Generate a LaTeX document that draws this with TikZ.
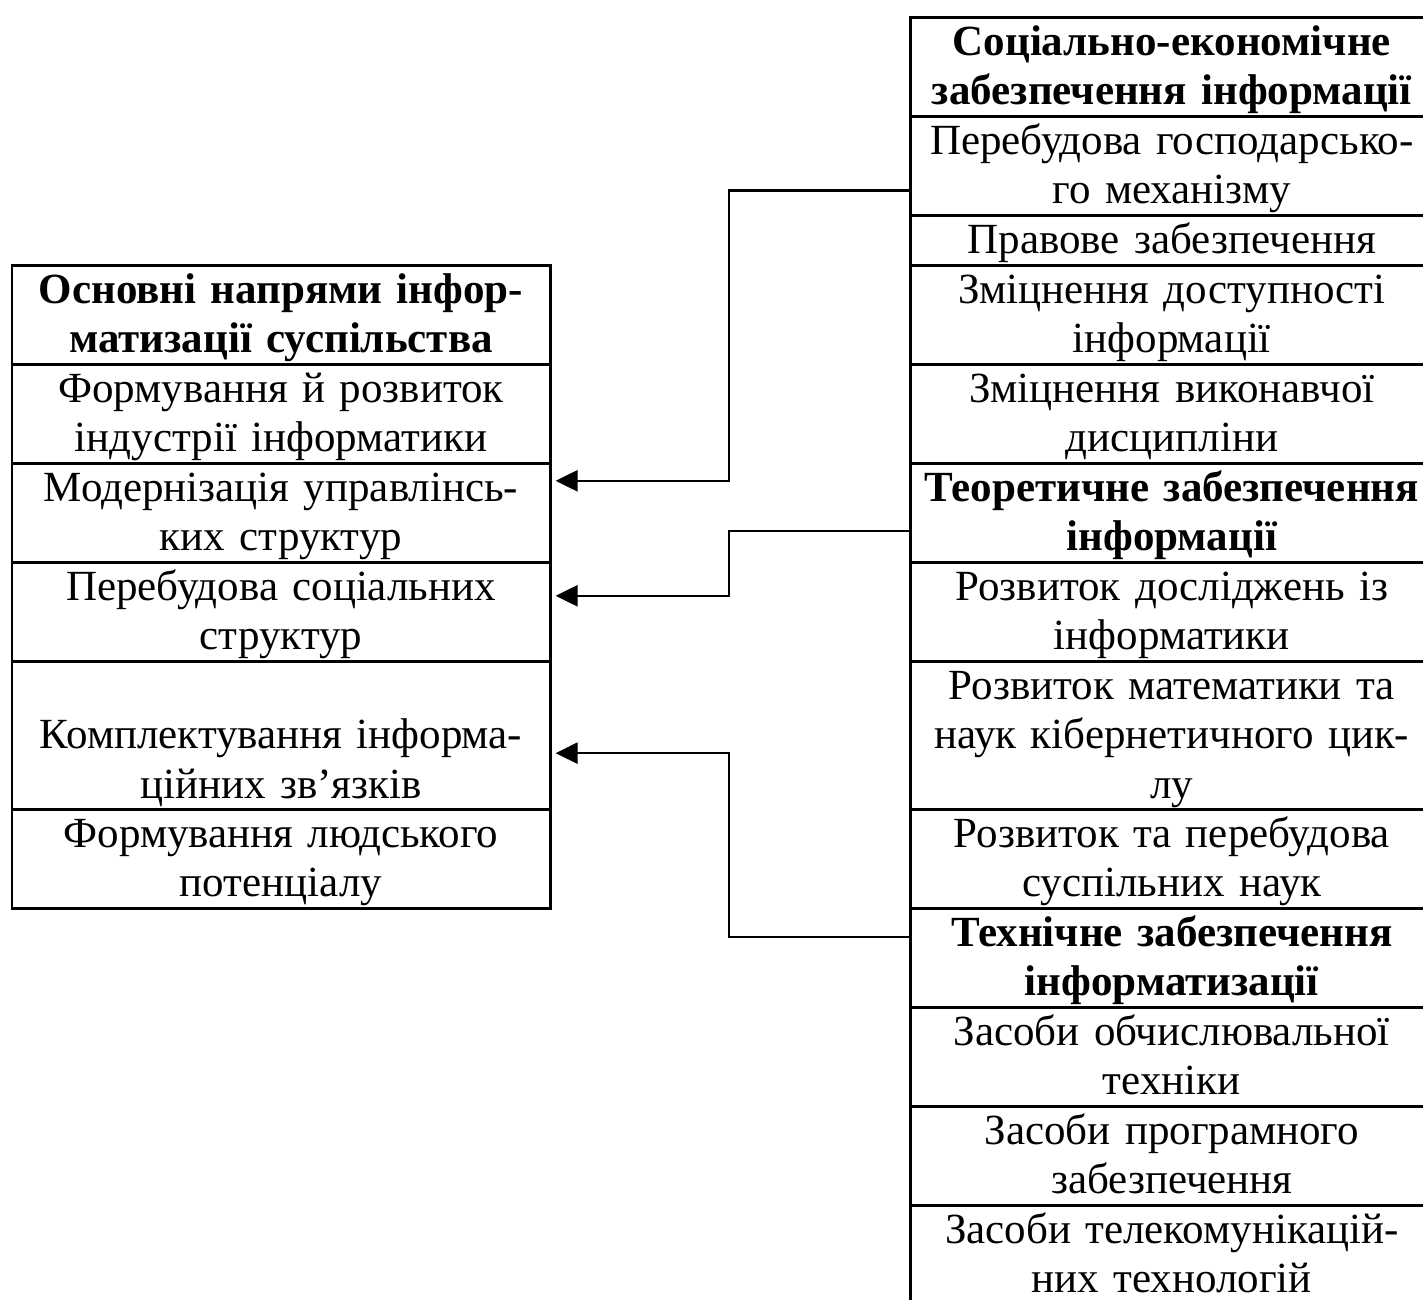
\documentclass[tikz,border=0pt]{standalone}
\usepackage{fontspec}
\setmainfont{Liberation Serif}
\usetikzlibrary{arrows.meta}
\newcommand\Ls{\rule[-11.5pt]{0pt}{49.5pt}}
\begin{document}
\begin{tikzpicture}[x=1pt,y=-1pt,
  cellL/.style={draw, line width=2.6pt, inner sep=0pt, anchor=north west,
    minimum width=538.5pt, text width=530pt, align=center,
    font=\fontsize{43}{49.5}\selectfont},
  cellR/.style={draw, line width=2.6pt, inner sep=0pt, anchor=north west,
    minimum width=523pt, text width=515pt, align=center,
    font=\fontsize{43}{49.5}\selectfont},
  hd/.style={font=\fontsize{43}{49.5}\selectfont\bfseries},
  conn/.style={line width=2.5pt, -{Triangle[length=22pt,width=21pt]}}
]
\useasboundingbox (0,0) rectangle (1423,1299);

% left table
\node[cellL, hd, minimum height=99pt] (L0) at (10.5,264) {\Ls Основні напрями інфор-\\\Ls матизації суспільства};
\node[cellL, minimum height=99pt] (L1) at (10.5,363) {\Ls Формування й розвиток\\\Ls індустрії інформатики};
\node[cellL, minimum height=99pt] (L2) at (10.5,462) {\Ls Модернізація управлінсь-\\\Ls ких структур};
\node[cellL, minimum height=99pt] (L3) at (10.5,561) {\Ls Перебудова соціальних\\\Ls структур};
\node[cellL, minimum height=148pt] (L4) at (10.5,660) {\Ls\\\Ls Комплектування інформа-\\\Ls ційних зв’язків};
\node[cellL, minimum height=99pt] (L5) at (10.5,808) {\Ls Формування людського\\\Ls потенціалу};

% right table
\node[cellR, hd, minimum height=99pt] (R0) at (909,16) {\Ls Соціально-економічне\\\Ls забезпечення інформації};
\node[cellR, minimum height=99pt] (R1) at (909,115) {\Ls Перебудова господарсько-\\\Ls го механізму};
\node[cellR, minimum height=50pt] (R2) at (909,214) {\Ls Правове забезпечення};
\node[cellR, minimum height=99pt] (R3) at (909,264) {\Ls Зміцнення доступності\\\Ls інформації};
\node[cellR, minimum height=99pt] (R4) at (909,363) {\Ls Зміцнення виконавчої\\\Ls дисципліни};
\node[cellR, hd, minimum height=99pt] (R5) at (909,462) {\Ls Теоретичне забезпечення\\\Ls інформації};
\node[cellR, minimum height=99pt] (R6) at (909,561) {\Ls Розвиток досліджень із\\\Ls інформатики};
\node[cellR, minimum height=148pt] (R7) at (909,660) {\Ls Розвиток математики та\\\Ls наук кібернетичного цик-\\\Ls лу};
\node[cellR, minimum height=99pt] (R8) at (909,808) {\Ls Розвиток та перебудова\\\Ls суспільних наук};
\node[cellR, hd, minimum height=99pt] (R9) at (909,907) {\Ls Технічне забезпечення\\\Ls інформатизації};
\node[cellR, minimum height=99pt] (R10) at (909,1006) {\Ls Засоби обчислювальної\\\Ls техніки};
\node[cellR, minimum height=99pt] (R11) at (909,1105) {\Ls Засоби програмного\\\Ls забезпечення};
\node[cellR, minimum height=99pt] (R12) at (909,1204) {\Ls Засоби телекомунікацій-\\\Ls них технологій};

% connector points
\coordinate (bus) at (729,0);
\coordinate (s1) at ([yshift=-24.5pt]R1.west);
\coordinate (t1) at ([xshift=4pt,yshift=32pt]L2.east);
\coordinate (s2) at ([yshift=-18pt]R5.west);
\coordinate (t2) at ([xshift=4pt,yshift=16pt]L3.east);
\coordinate (s3) at ([yshift=21pt]R9.west);
\coordinate (t3) at ([xshift=4pt,yshift=-17.6pt]L4.east);

\draw[conn] (s1) -| (bus |- t1) -- (t1);
\draw[conn] (s2) -| (bus |- t2) -- (t2);
\draw[conn] (s3) -| (bus |- t3) -- (t3);
\end{tikzpicture}
\end{document}
